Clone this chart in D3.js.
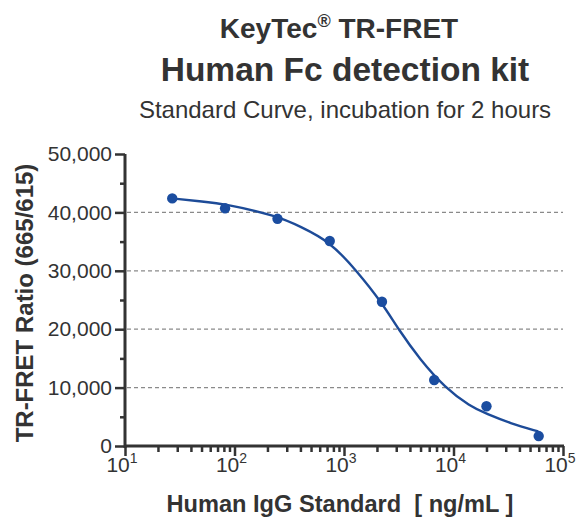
<!DOCTYPE html>
<html>
<head>
<meta charset="utf-8">
<title>Human Fc detection kit</title>
<script src="https://cdn.jsdelivr.net/npm/d3@7"></script>
<style>
  body { margin: 0; background: #fff; }
  svg { display: block; font-family: "Liberation Sans", Arial, sans-serif; }
</style>
</head>
<body>
<svg id="chart"></svg>
<script>
// measured standards (ng/mL) and TR-FRET ratio
var conc  = [27, 82, 247, 741, 2222, 6667, 20000, 60000];
var ratio = [42400, 40700, 38900, 35100, 24700, 11300, 6800, 1700];

// fitted curve
var fitConc  = [27, 48, 85, 244, 396, 745, 1306, 2208, 3133, 4943, 8360, 14160, 20100, 32800, 59400];
var fitRatio = [42400, 41900, 41400, 39400, 37600, 35000, 30000, 24600, 20000, 14800, 10000, 6800, 5500, 3900, 2500];

var yTicks = [0, 10000, 20000, 30000, 40000, 50000];
var yGrid  = [10000, 20000, 30000, 40000];
var xDecades = [1, 2, 3, 4, 5];

var W = 582, H = 522;
var ink = "#333";
var blue = "#1d4b98";

var svg = d3.select("#chart").attr("width", W).attr("height", H);

var x = d3.scaleLog().domain([10, 1e5]).range([125, 563]);
var y = d3.scaleLinear().domain([0, 50000]).range([446, 154]);

// titles
svg.append("text").attr("x", 339).attr("y", 38).attr("text-anchor", "middle")
  .attr("font-size", 28).attr("font-weight", "bold").attr("fill", ink)
  .html('KeyTec<tspan font-size="18" dy="-11">®</tspan><tspan dy="11"> TR-FRET</tspan>');
svg.append("text").attr("x", 345).attr("y", 81).attr("text-anchor", "middle")
  .attr("font-size", 33.5).attr("font-weight", "bold").attr("fill", ink)
  .text("Human Fc detection kit");
svg.append("text").attr("x", 345).attr("y", 118).attr("text-anchor", "middle")
  .attr("font-size", 24).attr("fill", ink)
  .text("Standard Curve, incubation for 2 hours");

// grid
svg.append("g").selectAll("line").data(yGrid).join("line")
  .attr("x1", 127).attr("x2", 563)
  .attr("y1", d => y(d)).attr("y2", d => y(d))
  .attr("stroke", "#8a8a8a").attr("stroke-width", 1.3)
  .attr("stroke-dasharray", "4,3");

// y axis
var yAxis = svg.append("g").attr("transform", "translate(125,0)")
  .call(d3.axisLeft(y).tickValues(yTicks).tickSize(10).tickPadding(3).tickFormat(d3.format(",")));
svg.append("g").attr("transform", "translate(125,0)")
  .call(d3.axisLeft(y).tickValues(d3.range(5000, 50000, 10000)).tickSize(5).tickFormat(""))
  .select(".domain").remove();

// x axis
var minor = [];
xDecades.slice(0, -1).forEach(function (e) {
  for (var k = 2; k <= 9; k++) minor.push(k * Math.pow(10, e));
});
var xAxis = svg.append("g").attr("transform", "translate(0,446)")
  .call(d3.axisBottom(x).tickValues(xDecades.map(e => Math.pow(10, e))).tickSize(10).tickFormat(""));
svg.append("g").attr("transform", "translate(0,446)")
  .call(d3.axisBottom(x).tickValues(minor).tickSize(6).tickFormat(""))
  .select(".domain").remove();

svg.selectAll(".domain, .tick line").attr("stroke", ink).attr("stroke-width", 2.5);
svg.selectAll(".domain").attr("stroke-width", 3);
yAxis.selectAll(".tick text").attr("font-size", 21).attr("fill", ink).attr("font-family", "Liberation Sans, Arial, sans-serif");
yAxis.select(".domain").attr("d", "M0,154V448");
xAxis.select(".domain").attr("d", "M125,0H564");

// x tick labels 10^n
svg.append("g").selectAll("text").data(xDecades).join("text")
  .attr("x", d => x(Math.pow(10, d)) - 3).attr("y", 472)
  .attr("text-anchor", "middle").attr("font-size", 21).attr("fill", ink)
  .html(d => '10<tspan font-size="14" dy="-9">' + d + '</tspan>');

// axis titles
svg.append("text").attr("x", 340).attr("y", 512).attr("text-anchor", "middle")
  .attr("font-size", 23.6).attr("font-weight", "bold").attr("fill", ink)
  .attr("xml:space", "preserve")
  .text("Human IgG Standard  [ ng/mL ]");
svg.append("text").attr("transform", "translate(33,303) rotate(-90)")
  .attr("text-anchor", "middle").attr("font-size", 24).attr("font-weight", "bold").attr("fill", ink)
  .text("TR-FRET Ratio (665/615)");

// fitted curve
var fit = fitConc.map((c, i) => [c, fitRatio[i]]);
svg.append("path").datum(fit)
  .attr("fill", "none").attr("stroke", blue).attr("stroke-width", 2.4)
  .attr("d", d3.line().x(d => x(d[0])).y(d => y(d[1])).curve(d3.curveBasis));

// points
svg.append("g").selectAll("circle").data(conc).join("circle")
  .attr("cx", d => x(d)).attr("cy", (d, i) => y(ratio[i]))
  .attr("r", 5.2).attr("fill", "#1b4da0");
</script>
</body>
</html>
